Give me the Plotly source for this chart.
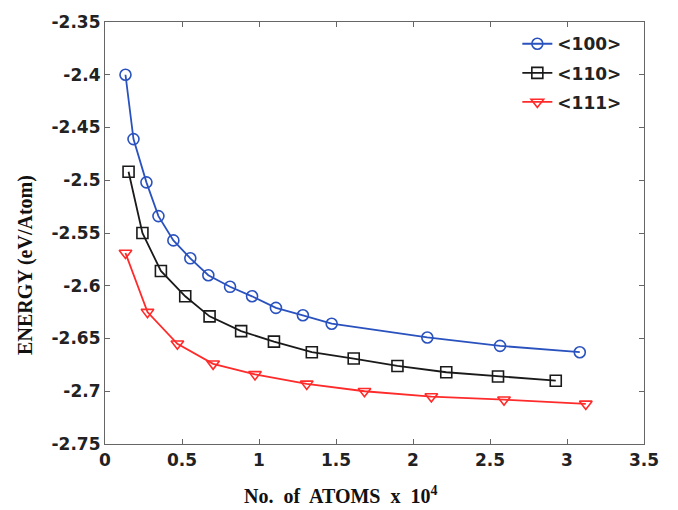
import plotly.graph_objects as go

# Data
x_100 = [0.133, 0.185, 0.269, 0.347, 0.444, 0.554, 0.671, 0.812, 0.955, 1.110, 1.285, 1.472, 2.093, 2.565, 3.083]
y_100 = [-2.400, -2.461, -2.502, -2.534, -2.557, -2.574, -2.590, -2.601, -2.610, -2.621, -2.628, -2.636, -2.649, -2.657, -2.663]

x_110 = [0.153, 0.243, 0.363, 0.521, 0.679, 0.884, 1.097, 1.343, 1.615, 1.899, 2.216, 2.552, 2.927]
y_110 = [-2.492, -2.550, -2.586, -2.610, -2.629, -2.643, -2.653, -2.663, -2.669, -2.676, -2.682, -2.686, -2.690]

x_111 = [0.133, 0.276, 0.470, 0.702, 0.974, 1.310, 1.685, 2.119, 2.591, 3.122]
y_111 = [-2.569, -2.625, -2.655, -2.674, -2.684, -2.693, -2.700, -2.705, -2.708, -2.712]

series_names = ["<100>", "<110>", "<111>"]
x_ticks = [0, 0.5, 1, 1.5, 2, 2.5, 3, 3.5]
x_ticklabels = ["0", "0.5", "1", "1.5", "2", "2.5", "3", "3.5"]
y_ticks = [-2.35, -2.4, -2.45, -2.5, -2.55, -2.6, -2.65, -2.7, -2.75]
y_ticklabels = ["-2.35", "-2.4", "-2.45", "-2.5", "-2.55", "-2.6", "-2.65", "-2.7", "-2.75"]
x_title = "No.  of  ATOMS  x  10<sup>4</sup>"
y_title = "ENERGY (eV/Atom)"

colors = ["#2a52be", "#1a1a1a", "#ff2a2a"]
symbols = ["circle-open", "square-open", "triangle-down-open"]

fig = go.Figure()
for i, (xs, ys) in enumerate([(x_100, y_100), (x_110, y_110), (x_111, y_111)]):
    fig.add_trace(go.Scatter(
        x=xs, y=ys, mode="lines+markers", name=series_names[i],
        legendgroup=f"g{i}",
        line=dict(color=colors[i], width=1.8),
        marker=dict(symbol=symbols[i], size=11, color=colors[i],
                    line=dict(width=1.6, color=colors[i])),
    ))

axis_common = dict(
    showline=True, linecolor="#666666", linewidth=1.2, mirror="ticks",
    ticks="inside", ticklen=5, tickcolor="#666666", showgrid=False, zeroline=False,
    tickfont=dict(family="DejaVu Sans", size=17, color="#222222", weight="bold"),
)

title_font = dict(family="Liberation Serif, Times New Roman", size=20, color="#111111", weight="bold")

fig.update_xaxes(range=[0, 3.5], tickvals=x_ticks, ticktext=x_ticklabels, **axis_common)
fig.update_yaxes(range=[-2.75, -2.35], tickvals=y_ticks, ticktext=y_ticklabels, **axis_common)

fig.add_annotation(text=x_title, xref="paper", yref="paper", x=0.438, y=-0.1215,
                   xanchor="center", yanchor="middle", showarrow=False, font=title_font)
fig.add_annotation(text=y_title, xref="paper", yref="paper", x=-0.148, y=0.425,
                   xanchor="center", yanchor="middle", textangle=-90, showarrow=False, font=title_font)

fig.update_layout(
    width=678, height=510,
    margin=dict(l=105, r=34, t=16, b=66),
    plot_bgcolor="white", paper_bgcolor="white",
    showlegend=True,
    legend=dict(x=0.765, y=0.99, xanchor="left", yanchor="top",
                bgcolor="rgba(255,255,255,0)", borderwidth=0,
                tracegroupgap=4,
                font=dict(family="DejaVu Sans", size=17, color="#222222", weight="bold")),
)

fig.write_html("out.html")
